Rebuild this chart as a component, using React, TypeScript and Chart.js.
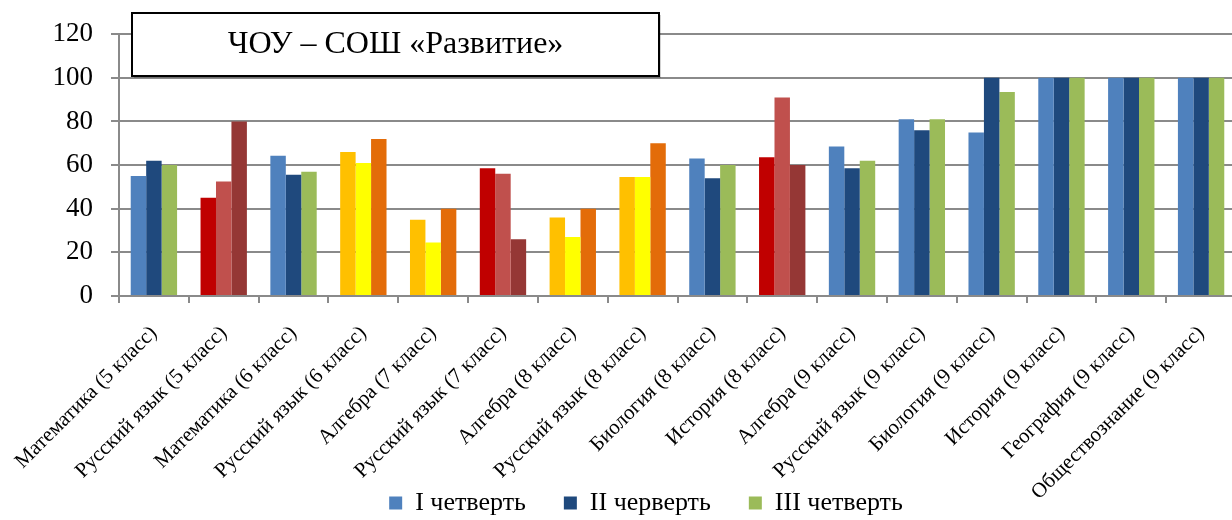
import React, { useEffect, useRef } from "react";
import { Chart, registerables } from "chart.js";

Chart.register(...registerables);

const titleText = "ЧОУ – СОШ «Развитие»";

const categories = [
  "Математика (5 класс)",
  "Русский язык (5 класс)",
  "Математика (6 класс)",
  "Русский язык (6 класс)",
  "Алгебра (7 класс)",
  "Русский язык (7 класс)",
  "Алгебра (8 класс)",
  "Русский язык (8 класс)",
  "Биология (8 класс)",
  "История (8 класс)",
  "Алгебра (9 класс)",
  "Русский язык (9 класс)",
  "Биология (9 класс)",
  "История (9 класс)",
  "География (9 класс)",
  "Обществознание (9 класс)",
];

const seriesNames = ["I четверть", "II черверть", "III четверть"];

const q1 = [55, 45, 64.3, 66, 35, 58.6, 36, 54.5, 63, 63.6, 68.5, 81, 75, 100, 100, 100];
const q2 = [62, 52.5, 55.6, 61, 24.5, 56, 27, 54.5, 54, 91, 58.5, 76, 100, 100, 100, 100];
const q3 = [60, 80, 57, 72, 40, 26, 40, 70, 60, 60, 62, 81, 93.5, 100, 100, 100];

const yTicks = [0, 20, 40, 60, 80, 100, 120];

// colour scheme used by each category group
const categoryScheme = [
  "blue", "red", "blue", "orange", "orange", "red", "orange", "orange",
  "blue", "red", "blue", "blue", "blue", "blue", "blue", "blue",
];

const palettes: Record<string, string[]> = {
  blue: ["#4F81BD", "#1F497D", "#9BBB59"],
  red: ["#C00000", "#C0504D", "#953735"],
  orange: ["#FFC000", "#FFFF00", "#E36C09"],
};

const FONT = "'Liberation Serif', 'Times New Roman', serif";
const GRID = "#8a8a8a";
const PLOT_BOTTOM = 296;
const PAD_BOTTOM = -60;
const LEGEND_PAD = 38;
const LEGEND_FONT = 26;
const LEGEND_CENTER_Y = 503;
const LEGEND_DX = 28;

export default function App() {
  const ref = useRef<HTMLCanvasElement>(null);

  useEffect(() => {
    const canvas = ref.current;
    if (!canvas) return;

    const seriesValues = [q1, q2, q3];

    const titlePlugin = {
      id: "titleBox",
      afterDraw(chart: any) {
        const ctx = chart.ctx;
        ctx.save();
        ctx.fillStyle = "rgba(0,0,0,0.18)";
        ctx.fillRect(134, 15, 527, 63);
        ctx.fillStyle = "#ffffff";
        ctx.fillRect(132, 13, 527, 63);
        ctx.strokeStyle = "#000000";
        ctx.lineWidth = 2;
        ctx.strokeRect(132, 13, 527, 63);
        ctx.fillStyle = "#000000";
        ctx.font = `32px ${FONT}`;
        ctx.textAlign = "center";
        ctx.textBaseline = "alphabetic";
        ctx.fillText(titleText, 395.5, 53);
        ctx.restore();
      },
    };

    const legendShift = {
      id: "legendShift",
      afterLayout(chart: any) {
        const l = chart.legend;
        if (l) {
          const h = l.bottom - l.top;
          const top = LEGEND_CENTER_Y - LEGEND_PAD - LEGEND_FONT / 2;
          l.top = top;
          l.bottom = top + h;
          l.left += LEGEND_DX;
          l.right += LEGEND_DX;
        }
      },
    };

    const chart = new Chart(canvas, {
      type: "bar",
      data: {
        labels: categories,
        datasets: seriesNames.map((name, si) => ({
          label: name,
          data: seriesValues[si],
          backgroundColor: categoryScheme.map((s) => palettes[s][si]),
          borderWidth: 0,
          categoryPercentage: 0.664,
          barPercentage: 1,
        })),
      },
      options: {
        responsive: false,
        animation: false,
        devicePixelRatio: 1,
        layout: { padding: { top: 26, left: 0, right: 0, bottom: PAD_BOTTOM } },
        plugins: {
          tooltip: { enabled: false },
          title: { display: false },
          legend: {
            position: "bottom",
            labels: {
              boxWidth: 13,
              boxHeight: 13,
              padding: LEGEND_PAD,
              color: "#000",
              font: { family: FONT, size: LEGEND_FONT },
              generateLabels: () =>
                seriesNames.map((n, i) => ({
                  text: n,
                  fillStyle: palettes.blue[i],
                  strokeStyle: palettes.blue[i],
                  lineWidth: 0,
                  hidden: false,
                  datasetIndex: i,
                  fontColor: "#000",
                })),
            },
          },
        },
        scales: {
          x: {
            grid: {
              display: true,
              drawOnChartArea: false,
              drawTicks: true,
              tickLength: 7,
              offset: true,
              color: GRID,
              lineWidth: 2,
            },
            border: { color: GRID, width: 2 },
            ticks: {
              color: "#000",
              font: { family: FONT, size: 21 },
              minRotation: 45,
              maxRotation: 45,
              autoSkip: false,
              padding: 18,
              labelOffset: 0,
            },
            afterFit: (s: any) => {
              const lh = s.chart.legend ? s.chart.legend.height : 0;
              s.height = s.chart.height - PAD_BOTTOM - PLOT_BOTTOM - lh;
              s.paddingLeft = 0;
              s.paddingRight = 0;
            },
          },
          y: {
            min: 0,
            max: 120,
            afterBuildTicks: (s: any) => {
              s.ticks = yTicks.map((v) => ({ value: v }));
            },
            ticks: {
              color: "#000",
              font: { family: FONT, size: 27 },
              padding: 18,
            },
            grid: { color: GRID, lineWidth: 2, tickLength: 8, drawTicks: true },
            border: { color: GRID, width: 2 },
            afterFit: (s: any) => {
              s.width = 119;
            },
          },
        },
      },
      plugins: [legendShift, titlePlugin],
    } as any);

    return () => chart.destroy();
  }, []);

  return (
    <div
      style={{
        position: "absolute",
        left: 0,
        top: 0,
        width: 1232,
        height: 520,
        overflow: "hidden",
        background: "#fff",
      }}
    >
      <canvas ref={ref} width={1236} height={520} style={{ display: "block" }} />
    </div>
  );
}
